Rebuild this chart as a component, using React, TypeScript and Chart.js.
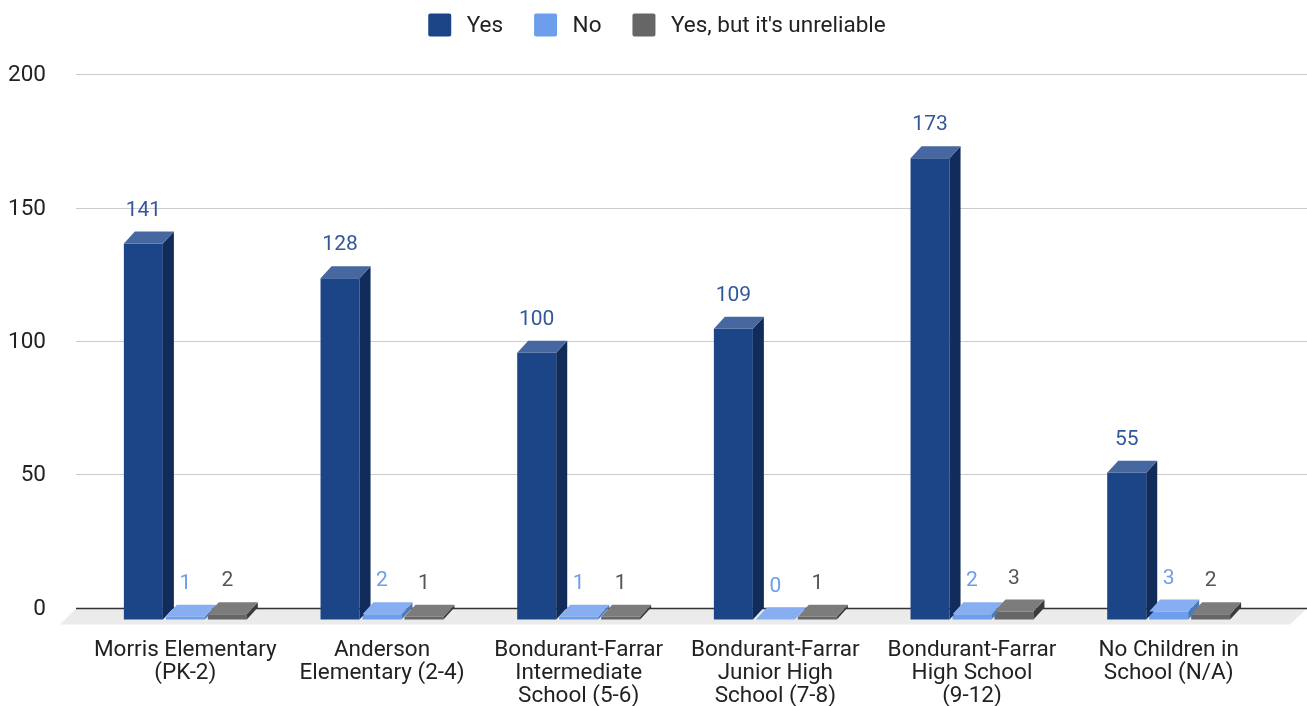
import React, { useEffect, useRef } from 'react';
import { Chart, registerables } from 'chart.js';

Chart.register(...registerables);

// ---------- data ----------
const categories: string[][] = [
  ['Morris Elementary', '(PK-2)'],
  ['Anderson', 'Elementary (2-4)'],
  ['Bondurant-Farrar', 'Intermediate', 'School (5-6)'],
  ['Bondurant-Farrar', 'Junior High', 'School (7-8)'],
  ['Bondurant-Farrar', 'High School', '(9-12)'],
  ['No Children in', 'School (N/A)'],
];
const seriesNames = ['Yes', 'No', "Yes, but it's unreliable"];
const yesValues = [141, 128, 100, 109, 173, 55];
const noValues = [1, 2, 1, 0, 2, 3];
const unreliableValues = [2, 1, 1, 1, 3, 2];
const yMin = 0;
const yMax = 200;
const yStep = 50;

// ---------- styles ----------
const frontColors = ['#1c4587', '#6d9eeb', '#666666'];
const topColors = ['#46679f', '#86aef0', '#7c7c7c'];
const sideColors = ['#112c5a', '#4b79c0', '#3a3a3a'];
const labelColors = ['#33589a', '#6d9eeb', '#555555'];
const DEPTH_X = 11;
const DEPTH_Y = 12;
const FONT = 'Roboto';
const TEXT_SIZE = 22.5;
const VALUE_SIZE = 21;

const threeDPlugin = {
  id: 'threeD',
  beforeDatasetsDraw(chart: any) {
    const { ctx, chartArea: ca, scales } = chart;
    const y = scales.y;
    const zeroBack = y.getPixelForValue(0) - DEPTH_Y;
    ctx.save();
    // floor
    ctx.fillStyle = '#ebebeb';
    ctx.beginPath();
    ctx.moveTo(ca.left - DEPTH_X, zeroBack + 1);
    ctx.lineTo(chart.width, zeroBack + 1);
    ctx.lineTo(chart.width - 17, zeroBack + 17);
    ctx.lineTo(ca.left - DEPTH_X - 16, zeroBack + 17);
    ctx.closePath();
    ctx.fill();
    // grid lines and tick labels on the back wall
    for (const t of y.ticks) {
      const py = Math.round(y.getPixelForValue(t.value) - DEPTH_Y) + 0.5;
      ctx.strokeStyle = t.value === 0 ? '#333333' : '#cccccc';
      ctx.lineWidth = t.value === 0 ? 1.5 : 1;
      ctx.beginPath();
      ctx.moveTo(ca.left - DEPTH_X, py);
      ctx.lineTo(chart.width, py);
      ctx.stroke();
      ctx.fillStyle = '#222222';
      ctx.font = `${TEXT_SIZE}px ${FONT}`;
      ctx.textAlign = 'right';
      ctx.textBaseline = 'middle';
      ctx.fillText(String(t.label ?? t.value), ca.left - 41, py + 1);
    }
    ctx.restore();
  },
  afterDatasetsDraw(chart: any) {
    const { ctx } = chart;
    const boxes: any[] = [];
    chart.data.datasets.forEach((ds: any, di: number) => {
      const meta = chart.getDatasetMeta(di);
      meta.data.forEach((el: any, i: number) => {
        boxes.push({ el, di, value: ds.data[i] });
      });
    });
    boxes.sort((a, b) => a.el.x - b.el.x);
    ctx.save();
    for (const b of boxes) {
      const { x, y, base, width } = b.el;
      const l = x - width / 2;
      const r = x + width / 2;
      const top = Math.min(y, base);
      const bottom = Math.max(y, base);
      // side face
      ctx.fillStyle = sideColors[b.di];
      ctx.beginPath();
      ctx.moveTo(r, top);
      ctx.lineTo(r + DEPTH_X, top - DEPTH_Y);
      ctx.lineTo(r + DEPTH_X, bottom - DEPTH_Y);
      ctx.lineTo(r, bottom);
      ctx.closePath();
      ctx.fill();
      // top face
      ctx.fillStyle = topColors[b.di];
      ctx.beginPath();
      ctx.moveTo(l, top);
      ctx.lineTo(r, top);
      ctx.lineTo(r + DEPTH_X, top - DEPTH_Y);
      ctx.lineTo(l + DEPTH_X, top - DEPTH_Y);
      ctx.closePath();
      ctx.fill();
    }
    // data labels
    ctx.font = `${VALUE_SIZE}px ${FONT}`;
    ctx.textAlign = 'center';
    ctx.textBaseline = 'middle';
    for (const b of boxes) {
      const { x, y, base } = b.el;
      const top = Math.min(y, base);
      ctx.fillStyle = labelColors[b.di];
      ctx.fillText(String(b.value), x, top - 33);
    }
    ctx.restore();
  },
};

const legendPlugin = {
  id: 'topLegend',
  afterDraw(chart: any) {
    const { ctx } = chart;
    ctx.save();
    ctx.font = `${TEXT_SIZE}px ${FONT}`;
    const box = 23;
    const gapText = 15.5;
    const gapItem = 31;
    const items = chart.data.datasets.map((ds: any) => ({
      text: ds.label,
      color: ds.backgroundColor,
      w: ctx.measureText(ds.label).width,
    }));
    const total =
      items.reduce((s: number, it: any) => s + box + gapText + it.w, 0) +
      gapItem * (items.length - 1);
    let x = chart.width / 2 + 3.5 - total / 2;
    const cy = 25;
    for (const it of items) {
      ctx.fillStyle = it.color;
      ctx.beginPath();
      if (ctx.roundRect) ctx.roundRect(x, cy - box / 2, box, box, 2);
      else ctx.rect(x, cy - box / 2, box, box);
      ctx.fill();
      ctx.fillStyle = '#222222';
      ctx.textAlign = 'left';
      ctx.textBaseline = 'middle';
      ctx.fillText(it.text, x + box + gapText, cy + 1);
      x += box + gapText + it.w + gapItem;
    }
    ctx.restore();
  },
};

export default function App() {
  const canvasRef = useRef<HTMLCanvasElement | null>(null);

  useEffect(() => {
    document.body.style.margin = '0';
    const canvas = canvasRef.current;
    if (!canvas) return;
    const seriesValues = [yesValues, noValues, unreliableValues];
    const chart = new Chart(canvas, {
      type: 'bar',
      data: {
        labels: categories,
        datasets: seriesNames.map((name, i) => ({
          label: name,
          data: seriesValues[i],
          backgroundColor: frontColors[i],
          borderWidth: 0,
          categoryPercentage: 0.64,
          barPercentage: 0.93,
          clip: false as any,
        })),
      },
      options: {
        animation: false,
        responsive: true,
        maintainAspectRatio: false,
        events: [],
        layout: { padding: { left: 87, right: 40, top: 86.2, bottom: 0 } },
        plugins: {
          legend: { display: false },
          tooltip: { enabled: false },
        },
        scales: {
          x: {
            grid: { display: false, drawTicks: false },
            border: { display: false },
            ticks: {
              color: '#222222',
              font: { family: FONT, size: TEXT_SIZE, lineHeight: 1.02 },
              padding: 19,
              maxRotation: 0,
              autoSkip: false,
            },
            afterFit: (s: any) => {
              s.height = 86.5;
            },
          },
          y: {
            display: false,
            min: yMin,
            max: yMax,
            ticks: { stepSize: yStep },
          },
        },
      },
      plugins: [threeDPlugin, legendPlugin],
    });
    return () => chart.destroy();
  }, []);

  return (
    <div style={{ position: 'fixed', left: 0, top: 0, width: 1307, height: 706, background: '#ffffff' }}>
      <canvas ref={canvasRef} />
    </div>
  );
}
